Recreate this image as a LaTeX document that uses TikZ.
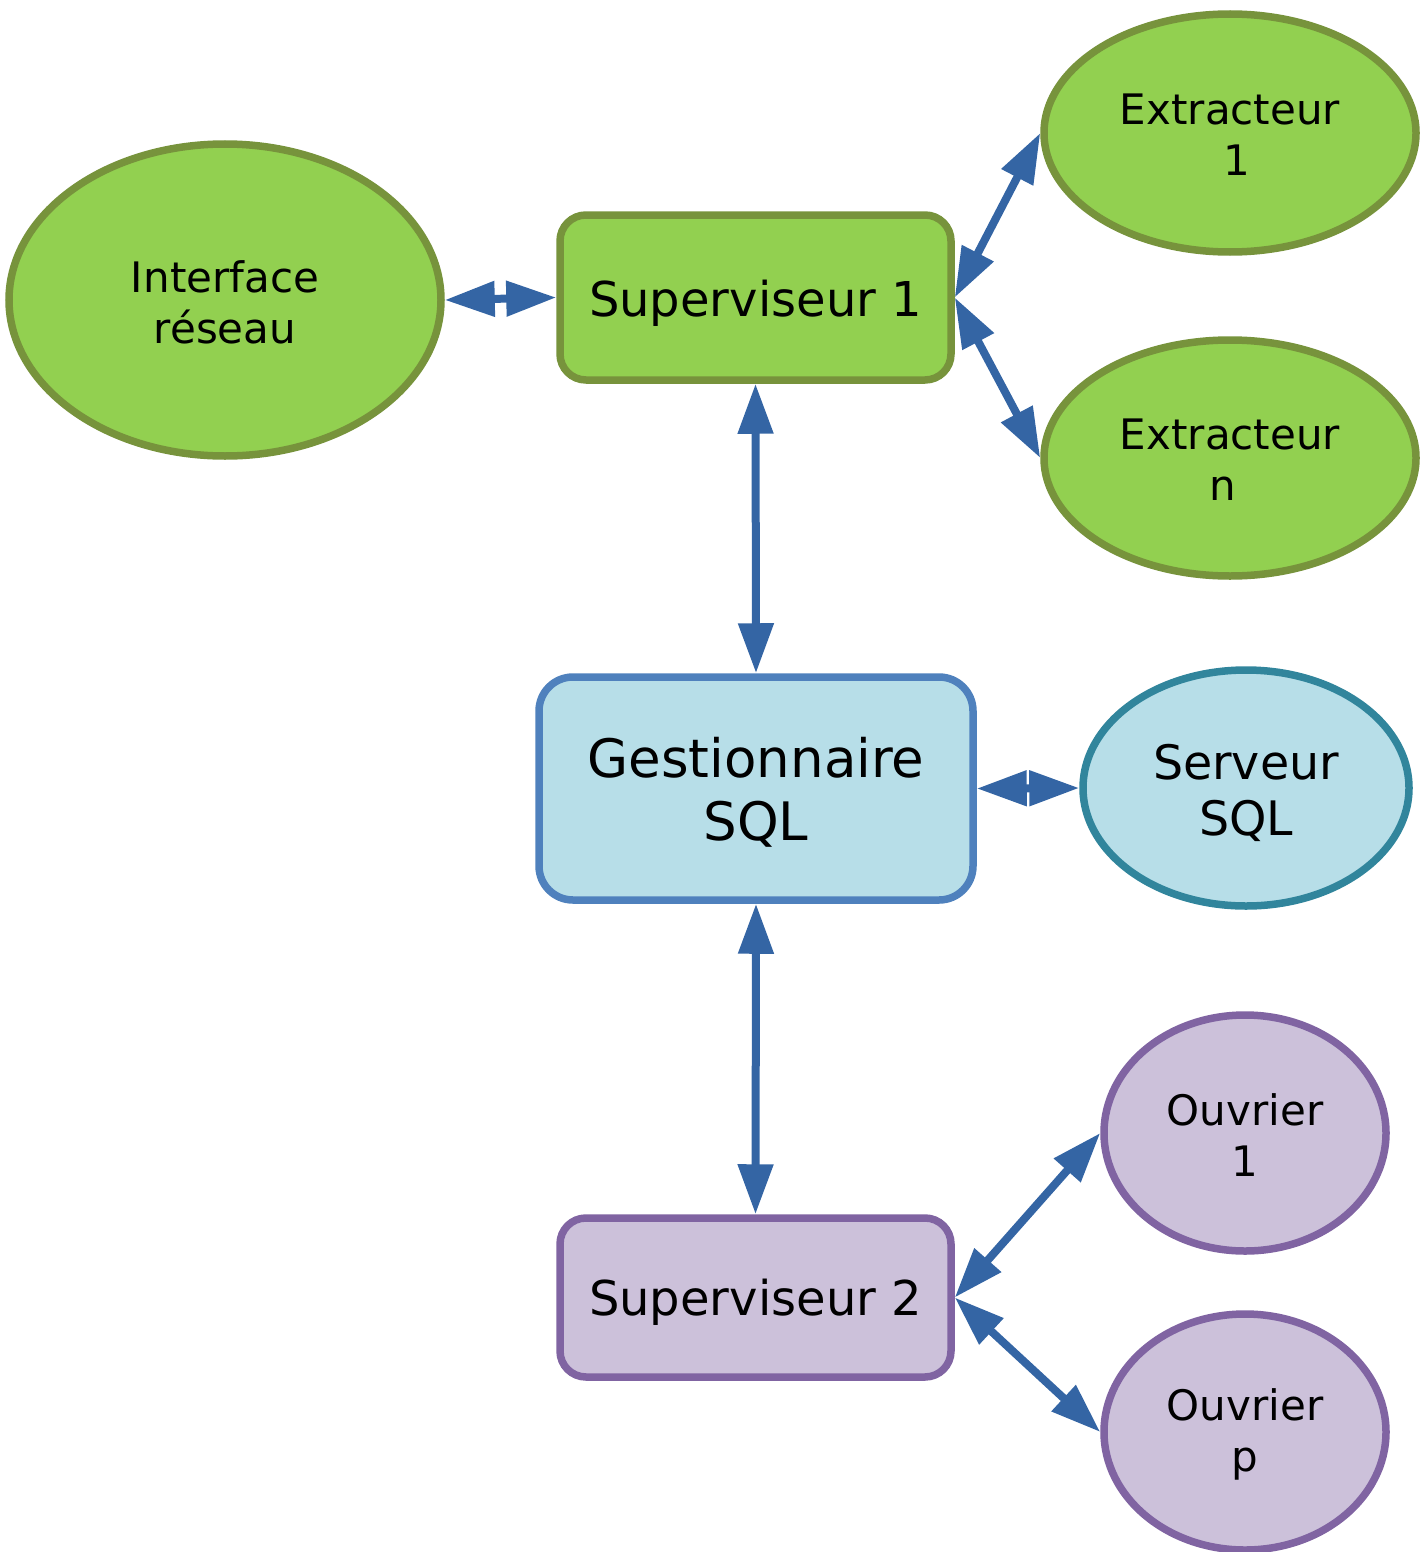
\documentclass[tikz,border=0pt]{standalone}
\usepackage{fontspec}
\setmainfont{DejaVu Sans}
\usetikzlibrary{shapes.geometric,arrows.meta}
\definecolor{grfill}{RGB}{146,208,80}
\definecolor{grline}{RGB}{119,147,60}
\definecolor{blfill}{RGB}{183,222,232}
\definecolor{blline}{RGB}{79,129,189}
\definecolor{tealline}{RGB}{49,133,156}
\definecolor{vifill}{RGB}{204,193,218}
\definecolor{viline}{RGB}{128,100,162}
\definecolor{arrowblue}{RGB}{52,101,164}
\begin{document}
\begin{tikzpicture}[x=1pt,y=-1pt,
  box/.style={rectangle,rounded corners=26pt,line width=7.5pt,inner sep=0pt},
  oval/.style={ellipse,line width=7.5pt,inner sep=0pt},
  green/.style={fill=grfill,draw=grline},
  cyan/.style={fill=blfill},
  violet/.style={fill=vifill,draw=viline},
  lbl/.style={align=center,inner sep=0pt},
  bigtext/.style={lbl,font=\fontsize{48}{57}\selectfont},
  smalltext/.style={lbl,font=\fontsize{42}{51}\selectfont},
  link/.style={line width=8pt,draw=arrowblue,
    {Triangle[length=50pt,width=34pt]}-{Triangle[length=50pt,width=34pt]}}
]
\useasboundingbox (0,0) rectangle (1421,1552);

% supervisor 1 group (green)
\node[oval,green,minimum width=432pt,minimum height=312pt] (iface) at (225,300) {};
\node[box,green,minimum width=391pt,minimum height=165pt] (sup1) at (755.5,297.5) {};
\node[oval,green,minimum width=372pt,minimum height=238pt] (ext1) at (1230,133) {};
\node[oval,green,minimum width=372pt,minimum height=236pt] (extn) at (1230,458) {};

% SQL layer (blue)
\node[box,cyan,draw=blline,rounded corners=34pt,
      minimum width=434pt,minimum height=223pt] (gest) at (756,788.5) {};
\node[oval,cyan,draw=tealline,minimum width=326pt,minimum height=236pt] (serv) at (1246,788) {};

% supervisor 2 group (violet)
\node[box,violet,minimum width=391pt,minimum height=159pt] (sup2) at (755.5,1297.5) {};
\node[oval,violet,minimum width=282pt,minimum height=236pt] (ouv1) at (1245,1133) {};
\node[oval,violet,minimum width=282pt,minimum height=236pt] (ouvp) at (1245,1432) {};

% labels
\node[smalltext] (ifacet) at ([yshift=-2pt]iface.center) {Interface\\réseau};
\node[bigtext]   (sup1t)  at ([yshift=-6pt]sup1.center) {Superviseur 1};
\node[smalltext] (ext1t)  at ([yshift=-2pt]ext1.center) {Extracteur\\\hspace*{14pt}1};
\node[smalltext] (extnt)  at ([yshift=-2pt]extn.center) {Extracteur\\n\hspace*{14pt}};
\node[lbl,font=\fontsize{53}{63}\selectfont] (gestt) at ([yshift=-4pt]gest.center) {Gestionnaire\\SQL};
\node[lbl,font=\fontsize{47.5}{56}\selectfont] (servt) at ([yshift=-5pt]serv.center) {Serveur\\SQL};
\node[bigtext]   (sup2t)  at ([yshift=-5pt]sup2.center) {Superviseur 2};
\node[smalltext] (ouv1t)  at ([yshift=-2pt]ouv1.center) {Ouvrier\\1};
\node[smalltext] (ouvpt)  at ([yshift=-2pt]ouvp.center) {Ouvrier\\p};

% links
\draw[link] (iface.east) -- (sup1.west);
\draw[link] (sup1.east) -- (ext1.west);
\draw[link] (sup1.east) -- (extn.west);
\draw[link] (sup1.south) -- (gest.north);
\draw[link] (gest.east) -- (serv.west);
\draw[link] (gest.south) -- (sup2.north);
\draw[link] (sup2.east) -- (ouv1.west);
\draw[link] (sup2.east) -- (ouvp.west);
\end{tikzpicture}
\end{document}
